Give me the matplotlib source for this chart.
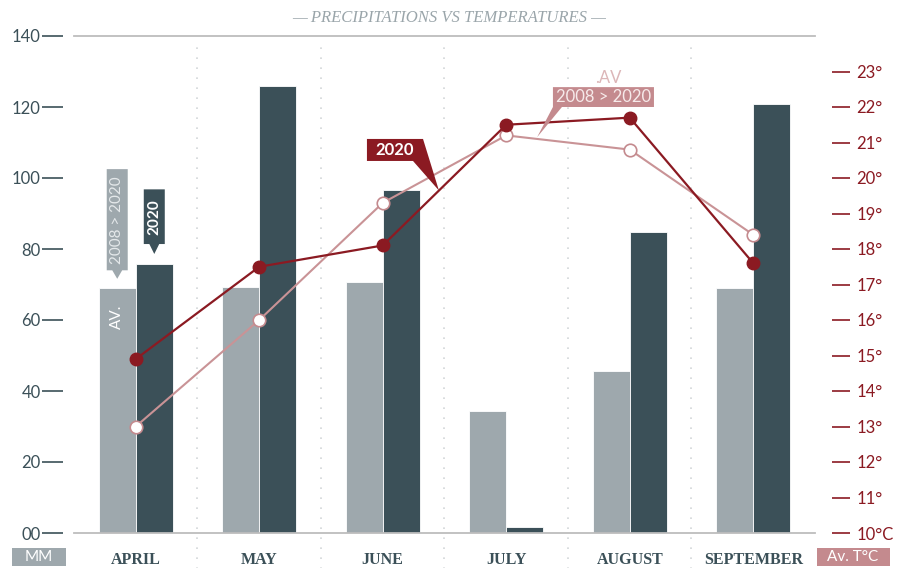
import matplotlib.pyplot as plt
import numpy as np
from matplotlib.patches import Polygon, Rectangle

# data
months = ['APRIL', 'MAY', 'JUNE', 'JULY', 'AUGUST', 'SEPTEMBER']
rain_avg = [69.0, 69.3, 70.7, 34.4, 45.6, 69.0]      # mm, 2008 > 2020
rain_2020 = [75.8, 125.9, 96.6, 1.7, 84.8, 120.8]    # mm, 2020
temp_avg = [13.0, 16.0, 19.3, 21.2, 20.8, 18.4]      # deg C, 2008 > 2020
temp_2020 = [14.9, 17.5, 18.1, 21.5, 21.7, 17.6]     # deg C, 2020
mm_ticks = [0, 20, 40, 60, 80, 100, 120, 140]
temp_ticks = list(range(10, 24))

LIGHT = '#9ea8ad'
DARK = '#3b5058'
RED = '#8b1a22'
PINK = '#c48a8e'

num_font = 'Lato'
serif = 'Liberation Serif'

fig = plt.figure(figsize=(9.04, 5.68), dpi=100)
ax = fig.add_axes([74 / 904, 35 / 568, (815 - 74) / 904, (533 - 36) / 568])
x = np.arange(len(months))
w = 0.3

ax.bar(x - w / 2, rain_avg, w, color=LIGHT, edgecolor='white', linewidth=0.6, zorder=2)
ax.bar(x + w / 2, rain_2020, w, color=DARK, edgecolor='white', linewidth=0.6, zorder=2)

ax.set_xlim(-0.5, len(months) - 0.5)
ax.set_ylim(0, 140)

# dotted separators
for b in np.arange(0.5, len(months) - 0.5, 1):
    ax.axvline(b, ymin=-0.072, ymax=0.99, color='#d3d7d9', linestyle=(0, (1, 5)),
               linewidth=1.2, clip_on=False, zorder=1)

for s in ['left', 'right']:
    ax.spines[s].set_visible(False)
ax.spines['top'].set_color('#bdbdbd')
ax.spines['bottom'].set_color('#bdbdbd')
ax.spines['top'].set_linewidth(1.3)
ax.spines['bottom'].set_linewidth(1.3)
ax.spines['left'].set_position(('outward', 8))

ax.set_yticks(mm_ticks)
ax.set_yticklabels(['00' if v == 0 else str(v) for v in mm_ticks],
                   fontfamily=num_font, fontsize=12)
ax.tick_params(axis='y', length=15, width=1.2, color=DARK, labelcolor=DARK, pad=1)
ax.set_xticks(x)
ax.set_xticklabels(months, fontfamily=serif, fontweight='bold', fontsize=11.5, color=DARK)
ax.tick_params(axis='x', length=0, pad=14)

# temperature axis
ax2 = ax.twinx()
ax2.set_ylim(10, 24)
ax2.set_xlim(-0.5, len(months) - 0.5)
for s in ['left', 'top', 'bottom', 'right']:
    ax2.spines[s].set_visible(False)
ax2.spines['right'].set_position(('outward', 12))
ax2.set_yticks(temp_ticks)
ax2.set_yticklabels(['10°C' if v == 10 else f'{v}°' for v in temp_ticks],
                    fontfamily=num_font, fontsize=12)
ax2.tick_params(axis='y', length=13, width=1.2, color=RED, labelcolor=RED, pad=5)

ax2.plot(x, temp_avg, color='#c99396', linewidth=1.5, marker='o', markersize=9,
         markerfacecolor='white', markeredgecolor='#c48a8e', markeredgewidth=1.2, zorder=3)
ax2.plot(x, temp_2020, color=RED, linewidth=1.6, marker='o', markersize=9,
         markerfacecolor=RED, markeredgecolor=RED, zorder=4)

# flags on April bars
fw = 0.085
xa = x[0] - w / 2
ya = rain_avg[0]
ax.add_patch(Polygon([(xa - fw, ya + 5), (xa - fw, ya + 33.5), (xa + fw, ya + 33.5),
                      (xa + fw, ya + 5), (xa + 0.04, ya + 5), (xa, ya + 2.6),
                      (xa - 0.04, ya + 5)], closed=True, color=LIGHT, zorder=5, lw=0))
ax.text(xa, ya + 19.2, '2008 > 2020', rotation=90, ha='center', va='center',
        color='#e4e8ea', fontfamily=num_font, fontsize=11, zorder=6)
ax.text(xa, ya - 8, 'AV.', rotation=90, ha='center', va='center',
        color='white', fontfamily=num_font, fontsize=11, zorder=6)

xd = x[0] + w / 2
yd = rain_2020[0]
ax.add_patch(Polygon([(xd - fw, yd + 5.6), (xd - fw, yd + 21), (xd + fw, yd + 21),
                      (xd + fw, yd + 5.6), (xd + 0.04, yd + 5.6), (xd, yd + 2.8),
                      (xd - 0.04, yd + 5.6)], closed=True, color=DARK, zorder=5, lw=0))
ax.text(xd, yd + 13.3, '2020', rotation=90, ha='center', va='center',
        color='white', fontweight='bold', fontfamily=num_font, fontsize=11, zorder=6)

# 2020 line label
tip_x = 2.455
tip_y = np.interp(tip_x, x, temp_2020)
ax2.add_patch(Polygon([(1.872, 20.48), (1.872, 21.10), (2.326, 21.10), (tip_x, tip_y),
                       (2.245, 20.48)], closed=True, color=RED, zorder=6, lw=0))
ax2.text(2.10, 20.80, '2020', ha='center', va='center', color='white',
         fontweight='bold', fontfamily=num_font, fontsize=12, zorder=7)

# average line label
tip_x = 3.25
tip_y = np.interp(tip_x, x, temp_avg) + 0.05
ax2.add_patch(Polygon([(3.378, 22.0), (3.378, 22.56), (4.196, 22.56), (4.196, 22.0),
                       (3.451, 22.0), (tip_x, tip_y)], closed=True, color=PINK,
                      zorder=6, lw=0))
ax2.text(3.787, 22.28, '2008 > 2020', ha='center', va='center', color='#f6eaea',
         fontfamily=num_font, fontsize=12, zorder=7)
ax2.text(3.83, 22.83, '.AV', ha='center', va='center', color='#dcb6b8',
         fontfamily=num_font, fontsize=12, zorder=7)

# title
fig.text(449 / 904, 1 - 18 / 568, '— PRECIPITATIONS VS TEMPERATURES —', ha='center',
         va='center', color='#9aa5aa', fontfamily=serif, fontstyle='italic', fontsize=12)

# unit boxes
fig.add_artist(Rectangle((12 / 904, 2 / 568), 54 / 904, 18 / 568,
                         transform=fig.transFigure, color=LIGHT, lw=0))
fig.text(39 / 904, 11 / 568, 'MM', ha='center', va='center', color='white',
         fontfamily=num_font, fontsize=11)
fig.add_artist(Rectangle((817 / 904, 2 / 568), 73 / 904, 18 / 568,
                         transform=fig.transFigure, color=PINK, lw=0))
fig.text(853 / 904, 11 / 568, 'Av. T°C', ha='center', va='center', color='white',
         fontfamily=num_font, fontsize=11)

fig.savefig('out.png', dpi=100)
